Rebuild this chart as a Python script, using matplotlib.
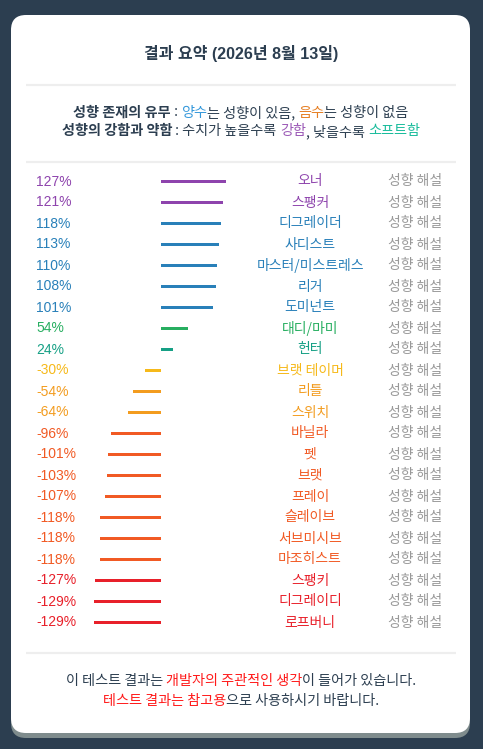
import matplotlib
matplotlib.use("Agg")
import matplotlib.pyplot as plt
from matplotlib.patches import FancyBboxPatch
from matplotlib.transforms import blended_transform_factory

# ---------------- data ----------------
names = ["오너", "스팽커", "디그레이더", "사디스트", "마스터/미스트레스", "리거", "도미넌트",
         "대디/마미", "헌터", "브랫 테이머", "리틀", "스위치", "바닐라", "펫", "브랫", "프레이",
         "슬레이브", "서브미시브", "마조히스트", "스팽키", "디그레이디", "로프버니"]
values = [127, 121, 118, 113, 110, 108, 101, 54, 24, -30, -54, -64, -96, -101, -103, -107,
          -118, -118, -118, -127, -129, -129]
row_colors = ["#8e44ad", "#8e44ad", "#2980b9", "#2980b9", "#2980b9", "#2980b9", "#2980b9",
              "#27ae60", "#16a085", "#f6b91a", "#f39c1f", "#f39c1f", "#f15a24", "#f15a24",
              "#f15a24", "#f15a24", "#f15a24", "#f15a24", "#f15a24", "#e8202a", "#e8202a",
              "#e8202a"]
link_label = "성향 해설"
title = "결과 요약 (2026년 8월 13일)"
legend_lines = [
    [("성향 존재의 유무", "#2c3e50", "bold"), (" : ", "#2c3e50", "normal"),
     ("양수", "#3498db", "normal"), ("는 성향이 있음, ", "#2c3e50", "normal"),
     ("음수", "#e67e22", "normal"), ("는 성향이 없음", "#2c3e50", "normal")],
    [("성향의 강함과 약함", "#2c3e50", "bold"), (" : 수치가 높을수록 ", "#2c3e50", "normal"),
     ("강함", "#9b59b6", "normal"), (", 낮을수록 ", "#2c3e50", "normal"),
     ("소프트함", "#1abc9c", "normal")],
]
footer_lines = [
    [("이 테스트 결과는 ", "#2c3e50", "normal"), ("개발자의 주관적인 생각", "#ff1a1a", "normal"),
     ("이 들어가 있습니다.", "#2c3e50", "normal")],
    [("테스트 결과는 참고용", "#ff1a1a", "normal"), ("으로 사용하시기 바랍니다.", "#2c3e50", "normal")],
]

W, H = 483, 749
KR = ["Noto Sans CJK KR", "DejaVu Sans"]
MIX = ["Liberation Sans", "Noto Sans CJK KR", "DejaVu Sans"]
plt.rcParams["font.family"] = KR

fig = plt.figure(figsize=(W / 100, H / 100), dpi=100)
fig.patch.set_facecolor("#2c3e50")

bg = fig.add_axes([0, 0, 1, 1])
bg.set_xlim(0, W)
bg.set_ylim(H, 0)
bg.axis("off")

# card shadow + card
bg.add_patch(FancyBboxPatch((11 + 15, 20 + 15), 459 - 30, 718 - 30,
                            boxstyle="round,pad=15", fc="#7f8c8d", ec="none"))
bg.add_patch(FancyBboxPatch((11 + 15, 15 + 15), 459 - 30, 718 - 30,
                            boxstyle="round,pad=15", fc="white", ec="none"))

# separators
for yy in (85, 162, 653):
    bg.plot([26, 456], [yy, yy], color="#eeeeee", lw=1.6, solid_capstyle="butt")

bg.text(241, 53, title, ha="center", va="center", fontsize=11.5, fontweight="bold",
        color="#2c3e50", family=MIX)

renderer = fig.canvas.get_renderer()


def rich_line(pieces, cx, cy, size):
    texts = []
    for s, c, w in pieces:
        t = bg.text(0, cy, s, ha="left", va="center", fontsize=size, color=c,
                    fontweight=w, family=KR)
        texts.append(t)
    widths = [t.get_window_extent(renderer).width for t in texts]
    total = sum(widths)
    x = cx - total / 2
    for t, w in zip(texts, widths):
        t.set_x(x)
        x += w


rich_line(legend_lines[0], 241, 112.5, 10.2)
rich_line(legend_lines[1], 241, 131.5, 10.2)
rich_line(footer_lines[0], 241, 680.5, 10.2)
rich_line(footer_lines[1], 241, 700.5, 10.2)

# bars
scale = 0.515
zero_px = 160.5
x0_px, x1_px = 80, 240
top_px, bot_px = 171, 633
ax = fig.add_axes([x0_px / W, 1 - bot_px / H, (x1_px - x0_px) / W, (bot_px - top_px) / H])
ax.set_xlim((x0_px - zero_px) / scale, (x1_px - zero_px) / scale)
n = len(values)
ax.set_ylim(n - 0.5, -0.5)
ax.axis("off")
rows = list(range(n))
ax.barh(rows, values, height=3 / 21, left=0, color=row_colors)

tr = blended_transform_factory(fig.transFigure, ax.transData)
for i, (nm, v, c) in enumerate(zip(names, values, row_colors)):
    ax.text(36 / W, i, f"{v}%", transform=tr, ha="left", va="center", fontsize=10,
            color=c, family=MIX, clip_on=False)
    ax.text(310 / W, i, nm, transform=tr, ha="center", va="center", fontsize=10,
            color=c, family=KR, clip_on=False)
    ax.text(415 / W, i, link_label, transform=tr, ha="center", va="center", fontsize=10,
            color="#999999", family=KR, clip_on=False)

fig.savefig("out.png", dpi=100, facecolor=fig.get_facecolor())
